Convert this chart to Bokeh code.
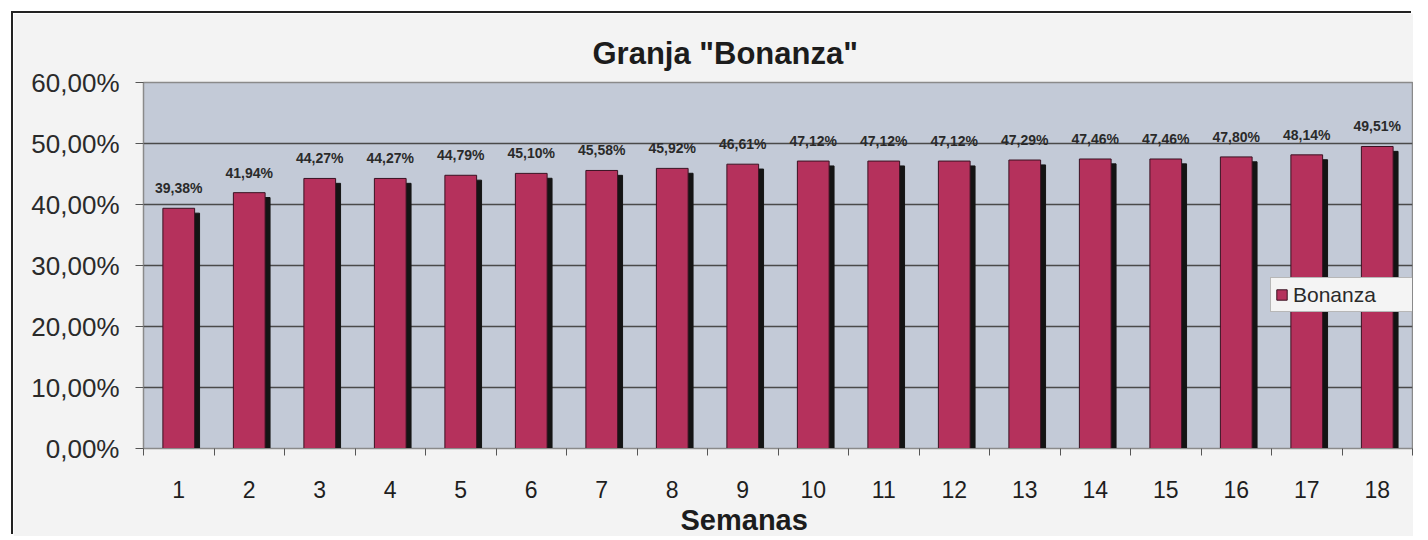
from bokeh.plotting import figure
from bokeh.models import FixedTicker, Range1d, Title, Legend, LegendItem
from bokeh.core.properties import value
from bokeh.embed import file_html
from bokeh.resources import INLINE

# ---- data ----
semanas = list(range(1, 19))
bonanza = [39.38, 41.94, 44.27, 44.27, 44.79, 45.10, 45.58, 45.92, 46.61,
           47.12, 47.12, 47.12, 47.29, 47.46, 47.46, 47.80, 48.14, 49.51]
etiquetas = [f"{v:.2f}%".replace(".", ",") for v in bonanza]
y_ticks = [0, 10, 20, 30, 40, 50, 60]
y_tick_labels = ["0,00%", "10,00%", "20,00%", "30,00%", "40,00%", "50,00%", "60,00%"]

FONT = "Liberation Sans"

p = figure(width=1400, height=523, output_backend="svg", toolbar_location=None,
           x_range=Range1d(0.5, 18.5), y_range=Range1d(0, 60),
           min_border_left=130, min_border_right=1, min_border_top=69, min_border_bottom=87)
p.margin = (13, 0, 0, 13)
p.styles = {"box-shadow": "-2px -2px 0 0 #222222", "vertical-align": "top"}

p.background_fill_color = "#c3cad7"
p.border_fill_color = "#f3f3f3"
p.outline_line_color = "#8a8a8a"
p.outline_line_width = 1.5

# title
p.title = Title(text='Granja "Bonanza"', align="left", offset=449, standoff=24,
                text_font=FONT, text_font_size="31px", text_font_style="bold",
                text_color="#1c1c1c")

# shadows (3D effect) then bars
sh_x = [s + 0.07 for s in semanas]
sh_top = [v - 0.8 for v in bonanza]
p.vbar(x=sh_x, top=sh_top, bottom=0, width=0.45, fill_color="#141414", line_color="#141414")
bars = p.vbar(x=semanas, top=bonanza, bottom=0, width=0.45,
              fill_color="#b5315c", line_color="#3a1222", line_width=1)

# data labels
p.text(x=semanas, y=bonanza, text=etiquetas, text_font=value(FONT),
       text_font_size="14px", text_font_style="bold", text_color="#2a2a2a",
       text_align="center", text_baseline="middle", y_offset=-20)

# axes
p.yaxis.ticker = FixedTicker(ticks=y_ticks)
p.yaxis.major_label_overrides = {t: l for t, l in zip(y_ticks, y_tick_labels)}
p.yaxis.major_label_text_font = FONT
p.yaxis.major_label_text_font_size = "26px"
p.yaxis.major_label_text_color = "#2a2a2a"
p.yaxis.major_tick_out = 8
p.yaxis.major_tick_in = 0
p.yaxis.minor_tick_out = 0
p.yaxis.minor_tick_in = 0
p.yaxis.major_tick_line_color = "#555555"
p.yaxis.axis_line_color = "#8a8a8a"
p.yaxis.major_label_standoff = 16

p.xaxis.ticker = FixedTicker(ticks=semanas, minor_ticks=[s - 0.5 for s in semanas] + [18.5])
p.xaxis.major_label_text_font = FONT
p.xaxis.major_label_text_font_size = "23px"
p.xaxis.major_label_text_color = "#1e1e1e"
p.xaxis.major_tick_out = 0
p.xaxis.major_tick_in = 0
p.xaxis.minor_tick_out = 7
p.xaxis.minor_tick_in = 0
p.xaxis.minor_tick_line_color = "#555555"
p.xaxis.axis_line_color = "#8a8a8a"
p.xaxis.major_label_standoff = 25

# x-axis title
p.add_layout(Title(text="Semanas", align="left", offset=537, standoff=2,
                   text_font=FONT, text_font_size="29px", text_font_style="bold",
                   text_color="#1c1c1c"),
             "below")

p.xgrid.grid_line_color = None
p.ygrid.grid_line_color = "#4a4a4a"
p.ygrid.grid_line_width = 1.3

legend = Legend(items=[LegendItem(label="Bonanza", renderers=[bars])],
                location=(1127, 136), padding=4, margin=0, spacing=0,
                glyph_width=13, glyph_height=13, label_standoff=5,
                label_width=117, label_height=25,
                label_text_font=FONT, label_text_font_size="21px",
                label_text_color="#2a2a2a",
                border_line_color="#7a7a7a", border_line_width=1,
                background_fill_color="#f4f4f4", background_fill_alpha=1)
p.add_layout(legend)

open("out.html", "w").write(file_html(p, INLINE))
